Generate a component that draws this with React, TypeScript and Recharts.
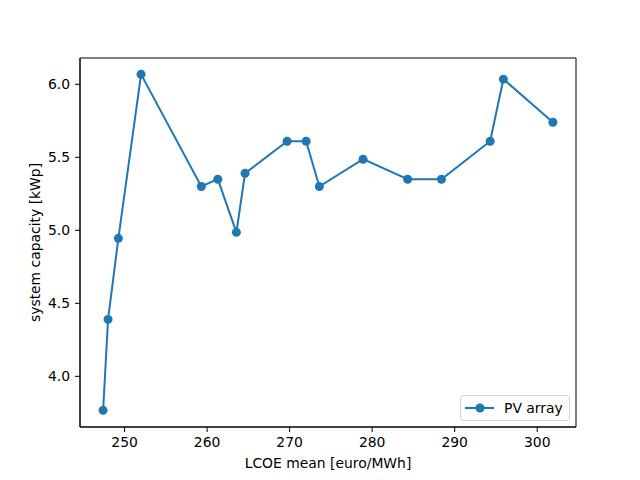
import React from 'react';
import { LineChart, Line, XAxis, YAxis, ReferenceArea } from 'recharts';

const lcoeMean = [
  247.4, 248.0, 249.25, 252.0, 259.3, 261.3, 263.55, 264.6, 269.7,
  272.0, 273.6, 278.9, 284.3, 288.4, 294.3, 295.9, 301.9,
];
const systemCapacity = [
  3.767, 4.39, 4.945, 6.068, 5.3, 5.35, 4.986, 5.39, 5.61,
  5.61, 5.3, 5.487, 5.35, 5.35, 5.61, 6.035, 5.74,
];
const xTicks = [250, 260, 270, 280, 290, 300];
const yTicks = [4.0, 4.5, 5.0, 5.5, 6.0];
const xDomain: [number, number] = [244.6, 304.7];
const yDomain: [number, number] = [3.653, 6.18];

const data = lcoeMean.map((x, i) => ({ x, y: systemCapacity[i] }));

const BLUE = '#1f77b4';
const FONT = 'DejaVu Sans, sans-serif';
const tickStyle = { fontSize: 13.9, fill: '#000', fontFamily: FONT };

function PvLegend() {
  return (
    <div
      style={{
        position: 'absolute',
        left: 460,
        top: 395,
        border: '1px solid #d6d6d6',
        borderRadius: 3,
        background: 'rgba(255,255,255,0.8)',
        width: 110,
        height: 26,
        display: 'flex',
        alignItems: 'center',
        fontFamily: FONT,
        fontSize: 13.9,
        color: '#000',
        boxSizing: 'border-box',
      }}
    >
      <svg width={43} height={24} style={{ flex: 'none' }}>
        <line x1={4} y1={12} x2={33} y2={12} stroke={BLUE} strokeWidth={2} />
        <circle cx={19} cy={12} r={4.5} fill={BLUE} />
      </svg>
      <span>PV array</span>
    </div>
  );
}

export default function App() {
  return (
    <div style={{ position: 'absolute', left: 0, top: 0, width: 640, height: 480, background: '#fff' }}>
      <LineChart width={640} height={480} data={data} margin={{ top: 58, right: 64, bottom: 8, left: 10 }}>
        <XAxis
          dataKey="x"
          type="number"
          domain={xDomain}
          ticks={xTicks}
          allowDataOverflow
          height={45}
          tickSize={5}
          tickMargin={5}
          tick={tickStyle}
          stroke="#000"
          tickLine={{ stroke: '#000' }}
          axisLine={{ stroke: '#000' }}
          label={{
            value: 'LCOE mean [euro/MWh]',
            position: 'insideBottom',
            offset: 4,
            style: { fontSize: 13.9, fill: '#000', fontFamily: FONT },
          }}
        />
        <YAxis
          dataKey="y"
          type="number"
          domain={yDomain}
          ticks={yTicks}
          allowDataOverflow
          width={70}
          tickSize={5}
          tickMargin={5}
          tick={tickStyle}
          tickFormatter={(v: number) => v.toFixed(1)}
          stroke="#000"
          tickLine={{ stroke: '#000' }}
          axisLine={{ stroke: '#000' }}
          label={({ viewBox }: any) => {
            const cx = viewBox.x + 25;
            const cy = viewBox.y + viewBox.height / 2;
            return (
              <text
                x={cx}
                y={cy}
                transform={`rotate(-90, ${cx}, ${cy})`}
                textAnchor="middle"
                dominantBaseline="central"
                style={{ fontSize: 13.9, fill: '#000', fontFamily: FONT }}
              >
                system capacity [kWp]
              </text>
            );
          }}
        />
        <ReferenceArea
          x1={xDomain[0]}
          x2={xDomain[1]}
          y1={yDomain[0]}
          y2={yDomain[1]}
          fill="none"
          fillOpacity={0}
          stroke="#000"
          strokeWidth={1}
          ifOverflow="visible"
        />
        <Line
          dataKey="y"
          type="linear"
          stroke={BLUE}
          strokeWidth={2}
          dot={{ r: 4.5, fill: BLUE, stroke: BLUE, strokeWidth: 0 }}
          activeDot={false}
          isAnimationActive={false}
        />
      </LineChart>
      <PvLegend />
    </div>
  );
}
